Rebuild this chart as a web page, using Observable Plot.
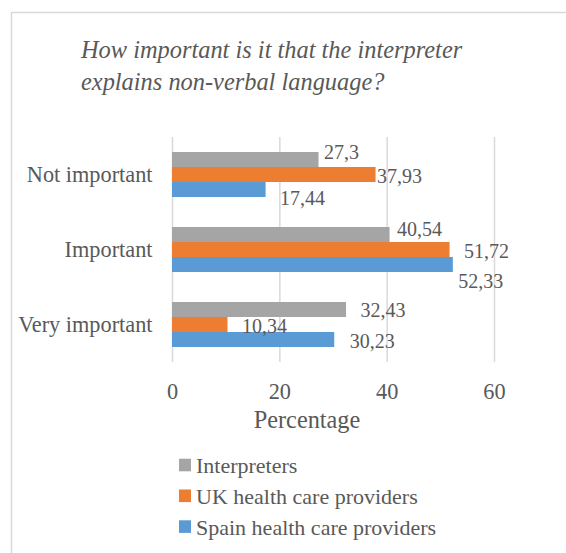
<!DOCTYPE html>
<html>
<head>
<meta charset="utf-8">
<script src="https://cdn.jsdelivr.net/npm/d3@7"></script>
<script src="https://cdn.jsdelivr.net/npm/@observablehq/plot@0.6"></script>
<style>
  html, body { margin: 0; padding: 0; background: #ffffff; }
  #chart svg { display: block; }
</style>
</head>
<body>
<div id="chart"></div>
<script>
// ---- data ----
const titleLines = ["How important is it that the interpreter", "explains non-verbal language?"];
const categories = ["Not important", "Important", "Very important"];
const series = ["Interpreters", "UK health care providers", "Spain health care providers"];
const interpreters = [27.3, 40.54, 32.43];
const ukProviders = [37.93, 51.72, 10.34];
const spainProviders = [17.44, 52.33, 30.23];
const xTicks = [0, 20, 40, 60];
const axisTitle = "Percentage";

// ---- styling / layout ----
const colors = ["#A5A5A5", "#ED7D31", "#5B9BD5"];
const textColor = "#595959";
const font = "'Liberation Serif', 'Times New Roman', serif";
// label nudges (dx, dy in px), in category-major, series-minor order
const labelNudge = [[5, -7], [1, 2], [14, 9], [7, -5], [14, 2], [5, 17], [14, 1], [14, 2], [15, 2]];

const seriesValues = [interpreters, ukProviders, spainProviders];
const rows = categories.flatMap((c, i) => series.map((s, j) => ({
  category: c,
  series: s,
  value: seriesValues[j][i],
  label: String(seriesValues[j][i]).replace(".", ",")
})));

const labelMarks = rows.map((d, k) => Plot.text([d], {
  x: "value", y: "series", fy: "category", text: "label",
  textAnchor: "start", dx: labelNudge[k][0], dy: labelNudge[k][1],
  fontSize: 20, fill: textColor, fontFamily: font
}));

const W = 566, H = 553;
const plot = Plot.plot({
  width: W, height: H,
  marginLeft: 172, marginRight: 72, marginTop: 137, marginBottom: 191,
  style: { fontFamily: font, fontSize: "22.3px", color: textColor, background: "transparent" },
  x: { domain: [0, 60], ticks: xTicks, tickSize: 0, tickPadding: 21, label: null, tickFormat: d => String(d) },
  fy: { domain: categories, padding: 0, label: null, tickSize: 0, tickPadding: 20, axis: "left" },
  y: { domain: series, axis: null, paddingInner: 0, paddingOuter: 1 },
  color: { domain: series, range: colors },
  marks: [
    Plot.ruleX(xTicks, { stroke: "#d9d9d9", strokeWidth: 1.5, strokeOpacity: 1 }),
    Plot.barX(rows, { x: "value", y: "series", fy: "category", fill: "series", inset: 0 }),
    ...labelMarks
  ]
});

document.getElementById("chart").appendChild(plot);

const svg = d3.select(plot);
const colorScale = plot.scale("color");

// border of the chart area
svg.append("rect")
  .attr("x", 11.5).attr("y", 12.5)
  .attr("width", 620).attr("height", 620)
  .attr("fill", "none").attr("stroke", "#d9d9d9").attr("stroke-width", 1.5);

// title
const title = svg.append("text")
  .attr("text-anchor", "start")
  .attr("font-family", font).attr("font-style", "italic")
  .attr("font-size", 24.4).attr("fill", textColor);
titleLines.forEach((t, i) => {
  title.append("tspan").attr("x", 81).attr("y", 58 + i * 32).text(t);
});

// axis title
svg.append("text")
  .attr("x", 307).attr("y", 427.5)
  .attr("text-anchor", "middle")
  .attr("font-family", font).attr("font-size", 24.3).attr("fill", textColor)
  .text(axisTitle);

// legend (vertical)
const legend = svg.append("g").attr("text-anchor", "start");
series.forEach((s, i) => {
  const cy = 465 + i * 30.8;
  legend.append("rect")
    .attr("x", 179).attr("y", cy - 6.3).attr("width", 12).attr("height", 12.6)
    .attr("fill", colorScale.apply(s));
  legend.append("text")
    .attr("x", 196).attr("y", cy + 8)
    .attr("text-anchor", "start")
    .attr("font-family", font).attr("font-size", 22).attr("fill", textColor)
    .text(s);
});
</script>
</body>
</html>
